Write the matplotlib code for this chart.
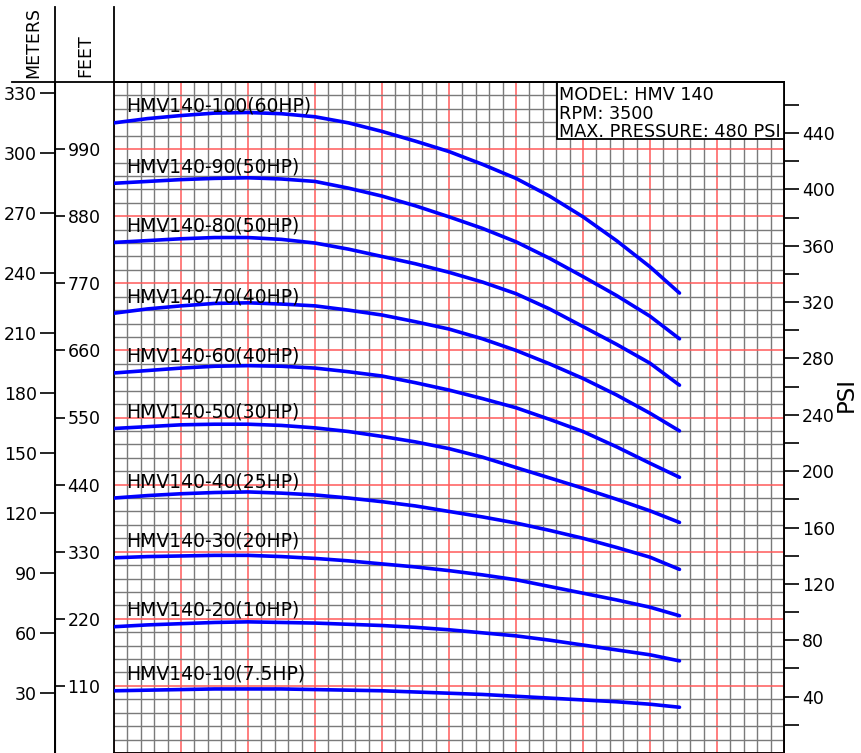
import numpy as np
import matplotlib
matplotlib.use('Agg')
import matplotlib.pyplot as plt
from matplotlib.lines import Line2D
from matplotlib.patches import Rectangle

W, H = 861, 753
FT_PER_M = 3.281
FT_PER_PSI = 2.31

# flow axis has no scale on the drawing, so use grid units (0..50)
flow = [0, 2.5, 5, 7.5, 10, 12.5, 15, 17.5, 20, 22.5, 25, 27.5, 30, 32.5, 35, 37.5, 40, 42.2]

head_100 = [1033, 1040, 1045, 1049, 1050, 1048, 1043, 1033, 1019, 1003, 986, 965, 942, 913, 879, 840, 797, 754]
head_90 = [934, 937, 940, 942, 943, 941, 937, 926, 913, 897, 879, 860, 838, 811, 781, 750, 716, 679]
head_80 = [837, 840, 843, 845, 845, 842, 836, 826, 814, 802, 788, 772, 753, 728, 699, 670, 639, 603]
head_70 = [721, 728, 733, 737, 738, 736, 733, 726, 718, 707, 695, 679, 660, 638, 614, 587, 557, 528]
head_60 = [623, 627, 631, 634, 635, 634, 631, 625, 618, 607, 595, 581, 566, 547, 527, 502, 475, 452]
head_50 = [532, 535, 538, 539, 539, 537, 533, 527, 519, 510, 499, 485, 468, 451, 434, 416, 397, 378]
head_40 = [418, 422, 425, 427, 428, 426, 423, 418, 412, 405, 396, 387, 377, 365, 352, 337, 321, 301]
head_30 = [320, 322, 323, 324, 324, 322, 319, 315, 310, 305, 299, 292, 284, 273, 262, 251, 239, 225]
head_20 = [207, 210, 212, 214, 215, 214, 213, 211, 209, 206, 202, 197, 192, 185, 177, 169, 161, 151]
head_10 = [102, 103, 104, 105, 105, 105, 104, 103, 102, 100, 98, 96, 93, 90, 87, 84, 80, 75]

curves = [head_100, head_90, head_80, head_70, head_60,
          head_50, head_40, head_30, head_20, head_10]
names = ['HMV140-100(60HP)', 'HMV140-90(50HP)', 'HMV140-80(50HP)',
         'HMV140-70(40HP)', 'HMV140-60(40HP)', 'HMV140-50(30HP)',
         'HMV140-40(25HP)', 'HMV140-30(20HP)', 'HMV140-20(10HP)',
         'HMV140-10(7.5HP)']

meter_ticks = np.arange(30, 331, 30)
feet_ticks = np.arange(110, 991, 110)
psi_ticks = np.arange(40, 441, 40)
psi_minor = np.arange(20, 461, 40)

info_lines = ['MODEL: HMV 140', 'RPM: 3500', 'MAX. PRESSURE: 480 PSI']


def fx(px):
    return px / W


def fy(py):
    return 1 - py / H


fig = plt.figure(figsize=(W / 100, H / 100), dpi=100)
ax = fig.add_axes([fx(114), 0, (784 - 114) / W, (753 - 82) / H])
ax.set_xlim(0, 50)
ax.set_ylim(0, 1100)

# grid: red every 5 cells, grey every cell
xmaj = np.arange(0, 51, 5)
xmin = [v for v in range(51) if v % 5 != 0]
ymaj = np.arange(0, 1101, 110)
ymin = [v for v in range(0, 1101, 22) if v % 110 != 0]
ax.set_xticks(xmaj)
ax.set_xticks(xmin, minor=True)
ax.set_yticks(ymaj)
ax.set_yticks(ymin, minor=True)
ax.grid(which='minor', color='#7a7a7a', lw=1.0)
ax.grid(which='major', color='#ff5a5a', lw=1.1)
ax.tick_params(which='both', length=0, labelleft=False, labelbottom=False)
for s in ax.spines.values():
    s.set_color('black')
    s.set_linewidth(1.3)

for head, name in zip(curves, names):
    ax.plot(flow, head, color='#0000ff', lw=2.6, solid_capstyle='round',
            solid_joinstyle='round', zorder=3)
    ax.text(0.9, head[0] + 27, name, fontsize=13.5, va='center', ha='left', zorder=4)

# meters scale
sec_m = ax.secondary_yaxis(-59 / 670, functions=(lambda f: f / FT_PER_M, lambda m: m * FT_PER_M))
sec_m.set_yticks(meter_ticks)
sec_m.tick_params(direction='out', length=11, width=1.2, pad=2, labelsize=12.5)
sec_m.spines['left'].set_linewidth(1.3)

# feet scale, drawn on the right side of the meters line
sec_f = ax.secondary_yaxis(-59 / 670, functions=(lambda f: f, lambda f: f))
sec_f.set_alignment('right')
sec_f.set_yticks(feet_ticks)
sec_f.tick_params(direction='out', length=7, width=1.2, pad=2, labelsize=12.5)

# psi scale
sec_p = ax.secondary_yaxis('right', functions=(lambda f: f / FT_PER_PSI, lambda p: p * FT_PER_PSI))
sec_p.set_yticks(psi_ticks)
sec_p.set_yticks(psi_minor, minor=True)
sec_p.tick_params(which='both', direction='out', length=11, width=1.2, pad=2, labelsize=12.5)
sec_p.spines['right'].set_linewidth(1.3)

# header lines
fig.add_artist(Line2D([fx(12), fx(784)], [fy(82), fy(82)], color='black', lw=1.3))
fig.add_artist(Line2D([fx(55), fx(55)], [fy(7), fy(753)], color='black', lw=1.3))
fig.add_artist(Line2D([fx(114), fx(114)], [fy(7), fy(82)], color='black', lw=1.3))
fig.text(fx(33), fy(42), 'METERS', rotation=90, ha='center', va='center', fontsize=12.5)
fig.text(fx(85.5), fy(56), 'FEET', rotation=90, ha='center', va='center', fontsize=12.5)
fig.text(fx(846), fy(394), 'PSI', rotation=90, ha='center', va='center', fontsize=16.5)

# info box
ax.add_patch(Rectangle((0.661, 0.915), 0.339, 0.085, transform=ax.transAxes,
                       facecolor='white', edgecolor='black', lw=1.3, zorder=5, clip_on=False))
for i, line in enumerate(info_lines):
    ax.text(0.664, 0.9806 - i * 0.0276, line, transform=ax.transAxes, fontsize=12.7,
            ha='left', va='center', zorder=6)

fig.savefig('out.png', dpi=100)
